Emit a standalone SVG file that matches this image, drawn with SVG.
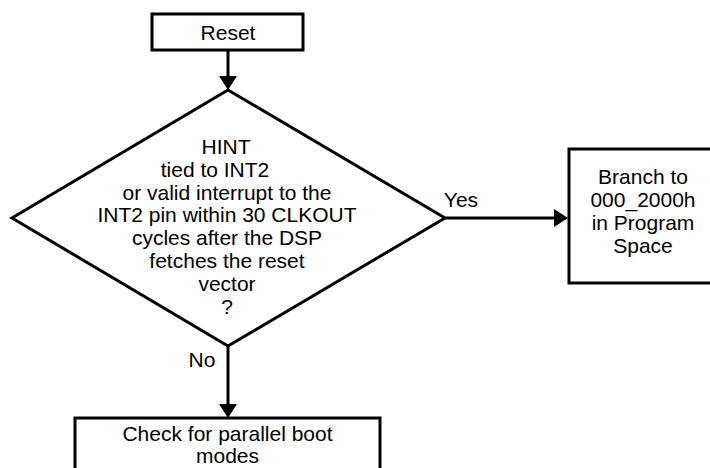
<svg xmlns="http://www.w3.org/2000/svg" width="710" height="468" viewBox="0 0 710 468">
  <style>
    .box { fill: #ffffff; stroke: #000000; stroke-width: 3; }
    .wire { fill: none; stroke: #000000; stroke-width: 3; }
    text { font-family: "Liberation Sans", Arial, sans-serif; font-size: 21px; fill: #000000; text-anchor: middle; }
  </style>
  <defs>
    <marker id="head" viewBox="0 0 14 18" refX="0" refY="9" markerWidth="14" markerHeight="18" markerUnits="userSpaceOnUse" orient="auto">
      <path d="M0,0 L14,9 L0,18 Z" fill="#000000"/>
    </marker>
  </defs>

  <rect width="710" height="468" fill="#ffffff"/>

  <!-- connectors -->
  <g id="connectors">
    <line class="wire" x1="228" y1="50" x2="228" y2="76" marker-end="url(#head)"/>
    <line class="wire" x1="445" y1="218" x2="554" y2="218" marker-end="url(#head)"/>
    <line class="wire" x1="228" y1="346" x2="228" y2="404" marker-end="url(#head)"/>
    <text x="461" y="207">Yes</text>
    <text x="202" y="367">No</text>
  </g>

  <!-- start -->
  <g id="reset">
    <rect class="box" x="152" y="14" width="151" height="36"/>
    <text x="228" y="39.5">Reset</text>
  </g>

  <!-- decision -->
  <g id="decision">
    <polygon class="box" points="228,90 445,218 228,346 12,218"/>
    <text x="226" y="154">HINT</text>
    <text x="215" y="176.8">tied to INT2</text>
    <text x="227" y="199.6">or valid interrupt to the</text>
    <text x="227" y="222.4">INT2 pin within 30 CLKOUT</text>
    <text x="227" y="245.2">cycles after the DSP</text>
    <text x="227" y="268">fetches the reset</text>
    <text x="227" y="290.8">vector</text>
    <text x="227" y="313.6">?</text>
  </g>

  <!-- yes branch -->
  <g id="branch">
    <rect class="box" x="569" y="149" width="150" height="134"/>
    <text x="643" y="184">Branch to</text>
    <text x="643" y="207">000_2000h</text>
    <text x="643" y="230">in Program</text>
    <text x="643" y="253">Space</text>
  </g>

  <!-- no branch -->
  <g id="parallel">
    <rect class="box" x="75" y="418" width="305" height="70"/>
    <text x="227.5" y="440.5">Check for parallel boot</text>
    <text x="227.5" y="462.5">modes</text>
  </g>
</svg>
